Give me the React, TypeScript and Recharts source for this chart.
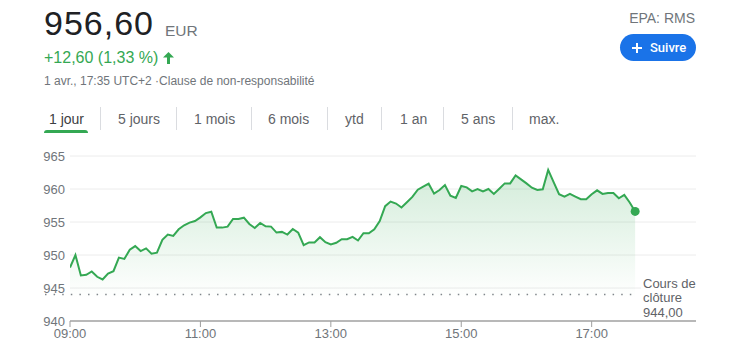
import React from 'react';
import {
  ComposedChart,
  Area,
  XAxis,
  YAxis,
  CartesianGrid,
  ReferenceLine,
  ReferenceDot,
} from 'recharts';

// ---- data ----
const TIME_START = 540; // 09:00 in minutes
const TIME_STEP = 5; // minutes between quotes
const PRICES = [
  948.1, 950.0, 946.9, 947.0, 947.5, 946.7, 946.3, 947.2, 947.55, 949.6,
  949.4, 950.8, 951.35, 950.6, 951.0, 950.2, 950.35, 952.3, 953.1, 952.9,
  953.9, 954.5, 954.9, 955.15, 955.7, 956.35, 956.55, 954.15, 954.15, 954.3,
  955.45, 955.45, 955.65, 954.7, 954.1, 954.85, 954.35, 954.3, 953.4, 953.5,
  953.1, 953.95, 953.4, 951.5, 951.9, 951.9, 952.7, 951.95, 951.6, 951.85,
  952.4, 952.4, 952.75, 952.2, 953.3, 953.3, 953.9, 955.15, 957.4, 958.1,
  957.8, 957.2, 958.0, 958.8, 959.9, 960.35, 960.8, 959.3, 959.85, 960.6,
  959.0, 958.65, 960.45, 960.25, 959.65, 960.0, 959.65, 960.0, 959.25, 960.05,
  960.85, 960.85, 962.05, 961.45, 960.85, 960.2, 959.85, 959.95, 962.9, 961.05,
  959.2, 958.85, 959.25, 958.85, 958.45, 958.45, 959.2, 959.8, 959.25, 959.4,
  959.4, 958.6, 959.1, 957.95, 956.6,
];
const X_DOMAIN = [540, 1116];
const X_TICKS = [540, 660, 780, 900, 1020];
const Y_DOMAIN = [940, 965];
const Y_TICKS = [940, 945, 950, 955, 960, 965];
const PREV_CLOSE = 944;
const PREV_CLOSE_SPAN = [517, 1063];
const TABS = ['1 jour', '5 jours', '1 mois', '6 mois', 'ytd', '1 an', '5 ans', 'max.'];

// ---- layout ----
const TAB_LEFTS = [49, 118, 194, 268, 345, 400, 461, 529];
const TAB_SEPS = [100, 176, 251, 327, 381, 443, 512];

const data = PRICES.map((p, i) => ({ t: TIME_START + TIME_STEP * i, price: p }));
const last = data[data.length - 1];

const fmtTime = (m: number) =>
  `${String(Math.floor(m / 60)).padStart(2, '0')}:${String(m % 60).padStart(2, '0')}`;

const GREEN = '#34a853';
const GRAY = '#70757a';
const FONT = '"Liberation Sans", Arial, sans-serif';

export default function App() {
  return (
    <div
      style={{
        position: 'absolute',
        left: 0,
        top: 0,
        width: 747,
        height: 354,
        background: '#fff',
        fontFamily: FONT,
        overflow: 'hidden',
      }}
    >
      {/* price */}
      <div
        style={{
          position: 'absolute',
          left: 44,
          top: 6,
          fontSize: 34,
          lineHeight: '34px',
          letterSpacing: 1,
          color: '#202124',
        }}
      >
        956,60
      </div>
      <div
        style={{
          position: 'absolute',
          left: 165,
          top: 23,
          fontSize: 15.5,
          lineHeight: '15.5px',
          color: GRAY,
        }}
      >
        EUR
      </div>
      <div
        style={{
          position: 'absolute',
          left: 44,
          top: 50,
          fontSize: 16,
          lineHeight: '16px',
          color: GREEN,
        }}
      >
        +12,60 (1,33 %)
      </div>
      <svg
        style={{ position: 'absolute', left: 163, top: 52 }}
        width={11}
        height={12}
        viewBox="0 0 11 12"
      >
        <polygon points="5.5,0 11,5.5 0,5.5" fill={GREEN} />
        <rect x={4} y={5} width={3} height={7} fill={GREEN} />
      </svg>
      <div
        style={{
          position: 'absolute',
          left: 44,
          top: 74.5,
          fontSize: 12,
          lineHeight: '12px',
          color: GRAY,
          whiteSpace: 'nowrap',
        }}
      >
        1 avr., 17:35 UTC+2 ·Clause de non-responsabilité
      </div>

      {/* right header */}
      <div
        style={{
          position: 'absolute',
          right: 52,
          top: 10.5,
          fontSize: 14,
          lineHeight: '14px',
          color: GRAY,
        }}
      >
        EPA: RMS
      </div>
      <div
        style={{
          position: 'absolute',
          left: 620,
          top: 34,
          width: 76,
          height: 27,
          borderRadius: 14,
          background: '#1a73e8',
        }}
      >
        <svg style={{ position: 'absolute', left: 11.5, top: 8.5 }} width={10} height={10}>
          <rect x={4} y={0} width={2} height={10} fill="#fff" />
          <rect x={0} y={4} width={10} height={2} fill="#fff" />
        </svg>
        <div
          style={{
            position: 'absolute',
            left: 30,
            top: 7,
            fontFamily: 'Roboto, sans-serif',
            fontWeight: 500,
            fontSize: 13,
            lineHeight: '13px',
            color: '#fff',
          }}
        >
          Suivre
        </div>
      </div>

      {/* tabs */}
      {TABS.map((t, i) => (
        <div
          key={t}
          style={{
            position: 'absolute',
            left: TAB_LEFTS[i],
            top: 112,
            fontSize: 14,
            lineHeight: '14px',
            color: i === 0 ? '#3c4043' : '#5f6368',
            whiteSpace: 'nowrap',
          }}
        >
          {t}
        </div>
      ))}
      {TAB_SEPS.map((x) => (
        <div
          key={x}
          style={{
            position: 'absolute',
            left: x,
            top: 107,
            width: 1,
            height: 23,
            background: '#dadce0',
          }}
        />
      ))}
      <div
        style={{
          position: 'absolute',
          left: 44,
          top: 130,
          width: 44,
          height: 3,
          borderRadius: '3px 3px 0 0',
          background: GREEN,
        }}
      />

      {/* chart */}
      <div style={{ position: 'absolute', left: 0, top: 140 }}>
        <ComposedChart
          width={747}
          height={214}
          data={data}
          margin={{ top: 16, right: 51, left: 0, bottom: 13 }}
        >
          <defs>
            <linearGradient id="priceFill" x1="0" y1="0" x2="0" y2="1">
              <stop offset="0%" stopColor={GREEN} stopOpacity={0.22} />
              <stop offset="85%" stopColor={GREEN} stopOpacity={0.0} />
            </linearGradient>
          </defs>
          <CartesianGrid vertical={false} stroke="#ececec" />
          <XAxis
            type="number"
            dataKey="t"
            domain={X_DOMAIN}
            ticks={X_TICKS}
            interval={0}
            tickFormatter={fmtTime}
            height={20}
            axisLine={{ stroke: '#b8b8b8', strokeWidth: 2 }}
            tickLine={{ stroke: '#9e9e9e' }}
            tickSize={6}
            tickMargin={2}
            tick={{ fill: GRAY, fontSize: 13, fontFamily: FONT }}
            allowDataOverflow
          />
          <YAxis
            type="number"
            domain={Y_DOMAIN}
            ticks={Y_TICKS}
            interval={0}
            width={70}
            axisLine={false}
            tickLine={false}
            tickSize={3}
            tickMargin={2}
            tick={{ fill: GRAY, fontSize: 13, fontFamily: FONT }}
            allowDataOverflow
          />
          <ReferenceLine
            segment={[
              { x: PREV_CLOSE_SPAN[0], y: PREV_CLOSE },
              { x: PREV_CLOSE_SPAN[1], y: PREV_CLOSE },
            ]}
            ifOverflow="visible"
            stroke="#80868b"
            strokeWidth={1.5}
            strokeDasharray="1.5 7.1"
          />
          <Area
            type="linear"
            dataKey="price"
            stroke={GREEN}
            strokeWidth={2}
            fill="url(#priceFill)"
            fillOpacity={1}
            dot={false}
            activeDot={false}
            isAnimationActive={false}
          />
          <ReferenceDot
            x={last.t}
            y={last.price}
            r={4.5}
            fill={GREEN}
            stroke="none"
            ifOverflow="visible"
          />
        </ComposedChart>
      </div>

      {/* previous close label */}
      <div
        style={{
          position: 'absolute',
          left: 641,
          top: 276.5,
          paddingLeft: 2,
          width: 60,
          fontSize: 13,
          lineHeight: '14.5px',
          color: '#5f6368',
          background: '#fff',
        }}
      >
        Cours de
        <br />
        clôture
        <br />
        944,00
      </div>
    </div>
  );
}
